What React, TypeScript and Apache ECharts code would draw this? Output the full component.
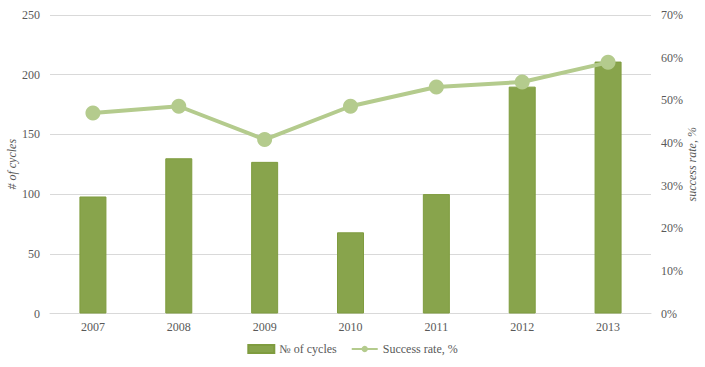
import React, { useEffect, useRef } from "react";
import * as echarts from "echarts";

const years = ["2007", "2008", "2009", "2010", "2011", "2012", "2013"];
const cycles = [98, 130, 127, 68, 100, 190, 211];
const successRate = [47.0, 48.6, 40.8, 48.6, 53.1, 54.3, 58.9];

const FONT = "'Liberation Serif', 'Times New Roman', serif";
const TXT = "#595959";

export default function App() {
  const ref = useRef<HTMLDivElement>(null);
  useEffect(() => {
    if (!ref.current) return;
    const chart = echarts.init(ref.current, null, { renderer: "svg" });
    chart.setOption({
      animation: false,
      textStyle: { fontFamily: FONT, color: TXT },
      grid: {
        left: 50,
        right: 54,
        top: 15,
        bottom: 53.5,
        containLabel: false,
        outerBoundsMode: "none",
      },
      legend: {
        bottom: 7,
        left: "center",
        itemGap: 14,
        itemWidth: 26,
        itemHeight: 8,
        textStyle: { fontFamily: FONT, fontSize: 12, color: TXT },
        data: [
          { name: "№ of cycles", icon: "rect" },
          { name: "Success rate, %" },
        ],
      },
      xAxis: {
        type: "category",
        data: years,
        axisLine: { lineStyle: { color: "#d9d9d9" } },
        axisTick: { show: false },
        axisLabel: { color: TXT, fontSize: 12, fontFamily: FONT, margin: 7 },
      },
      yAxis: [
        {
          type: "value",
          min: 0,
          max: 250,
          interval: 50,
          name: "# of cycles",
          nameLocation: "middle",
          nameGap: 32,
          nameMoveOverlap: false,
          nameTextStyle: { fontStyle: "italic", color: TXT, fontSize: 12, fontFamily: FONT },
          axisLine: { show: false, lineStyle: { color: TXT } },
          axisTick: { show: false },
          axisLabel: { color: TXT, fontSize: 12, fontFamily: FONT, margin: 10 },
          splitLine: { lineStyle: { color: "#d9d9d9", width: 1 } },
        },
        {
          type: "value",
          min: 0,
          max: 70,
          interval: 10,
          position: "right",
          name: "success rate, %",
          nameLocation: "middle",
          nameGap: 35,
          nameMoveOverlap: false,
          nameTextStyle: { fontStyle: "italic", color: TXT, fontSize: 12, fontFamily: FONT },
          axisLine: { show: false, lineStyle: { color: TXT } },
          axisTick: { show: false },
          axisLabel: { color: TXT, fontSize: 12, fontFamily: FONT, margin: 10, formatter: "{value}%" },
          splitLine: { show: false },
        },
      ],
      series: [
        {
          name: "№ of cycles",
          type: "bar",
          data: cycles,
          barWidth: 27,
          itemStyle: { color: "#88a44c", borderColor: "#7f9c3f", borderWidth: 1 },
        },
        {
          name: "Success rate, %",
          type: "line",
          yAxisIndex: 1,
          data: successRate,
          symbol: "circle",
          symbolSize: 15,
          lineStyle: { color: "#b4cb8d", width: 4 },
          itemStyle: { color: "#b4cb8d" },
        },
      ],
    });
    return () => chart.dispose();
  }, []);
  return (
    <div
      ref={ref}
      style={{ position: "absolute", left: 0, top: 0, width: 705, height: 367 }}
    />
  );
}
